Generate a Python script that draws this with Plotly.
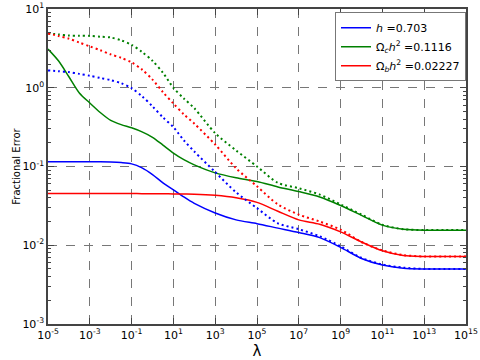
import plotly.graph_objects as go

# lambda sample points
lam = [1e-5, 3.16e-5, 1e-4, 3.16e-4, 1e-3, 3.16e-3, 1e-2, 3.16e-2, 1e-1, 3.16e-1, 1e0, 3.16e0, 1e1, 3.16e1,
       1e2, 1e3, 1e4, 1e5, 1e6, 1e7, 1e8, 1e9, 1e10, 1e11, 1e12, 1e13, 1e14, 1e15]

# solid curves
h_solid = [0.115, 0.115, 0.115, 0.115, 0.115, 0.1148, 0.114, 0.112, 0.108, 0.096, 0.079, 0.062, 0.0506, 0.041,
           0.034, 0.0257, 0.021, 0.0188, 0.0165, 0.0145, 0.0125, 0.0094, 0.0068, 0.0056, 0.0051, 0.0050, 0.0050, 0.0050]
oc_solid = [3.1, 2.2, 1.38, 0.86, 0.64, 0.485, 0.385, 0.34, 0.31, 0.275, 0.235, 0.187, 0.148, 0.122,
            0.105, 0.083, 0.072, 0.0645, 0.055, 0.048, 0.041, 0.032, 0.024, 0.018, 0.016, 0.0155, 0.0155, 0.0155]
ob_solid = [0.0455, 0.0455, 0.0455, 0.0455, 0.0455, 0.0455, 0.0455, 0.0454, 0.0453, 0.0452, 0.0451, 0.045, 0.0449, 0.0447,
            0.0445, 0.043, 0.040, 0.035, 0.027, 0.021, 0.0185, 0.0148, 0.011, 0.0085, 0.0074, 0.0072, 0.0072, 0.0072]

# dotted curves
h_dot = [1.66, 1.62, 1.58, 1.5, 1.42, 1.33, 1.25, 1.14, 0.99, 0.78, 0.58, 0.42, 0.316, 0.215,
         0.155, 0.085, 0.047, 0.0296, 0.019, 0.016, 0.013, 0.0097, 0.0069, 0.0057, 0.0052, 0.0050, 0.0050, 0.0050]
oc_dot = [4.9, 4.75, 4.6, 4.58, 4.55, 4.45, 4.35, 4.0, 3.5, 2.85, 2.2, 1.55, 1.0, 0.73,
          0.55, 0.265, 0.16, 0.1, 0.062, 0.053, 0.044, 0.033, 0.0245, 0.0182, 0.016, 0.0156, 0.0156, 0.0156]
ob_dot = [4.9, 4.55, 4.2, 3.75, 3.35, 3.0, 2.65, 2.4, 2.1, 1.7, 1.27, 0.88, 0.63, 0.46,
          0.35, 0.19, 0.095, 0.056, 0.033, 0.0245, 0.02, 0.0158, 0.011, 0.0086, 0.0075, 0.0072, 0.0072, 0.0072]

names = ["<i>h</i> =0.703",
         "Ω<sub><i>c</i></sub><i>h</i><sup>2</sup> =0.1116",
         "Ω<sub><i>b</i></sub><i>h</i><sup>2</sup> =0.02227"]
colors = ["#0000ff", "#008000", "#ff0000"]

fig = go.Figure()
for ys, c, n in zip([h_solid, oc_solid, ob_solid], colors, names):
    fig.add_trace(go.Scatter(x=lam, y=ys, mode="lines", name=n,
                             line=dict(color=c, width=1.5, shape="spline", smoothing=0.8)))
for ys, c in zip([h_dot, oc_dot, ob_dot], colors):
    fig.add_trace(go.Scatter(x=lam, y=ys, mode="lines", showlegend=False,
                             line=dict(color=c, width=2, dash="2px,3px", shape="spline", smoothing=0.8)))

xt = [10.0 ** e for e in range(-5, 16, 2)]
xtt = ["10<sup>%d</sup>" % e for e in range(-5, 16, 2)]
yt = [10.0 ** e for e in range(-3, 2)]
ytt = ["10<sup>%d</sup>" % e for e in range(-3, 2)]
yminor = [k * 10.0 ** e for e in range(-3, 1) for k in range(2, 10)]

fig.update_layout(
    width=480, height=360,
    margin=dict(l=48, r=14, t=9, b=36),
    plot_bgcolor="white", paper_bgcolor="white",
    font=dict(family="DejaVu Sans", size=11, color="black"),
    legend=dict(x=1.0, y=0.99, xanchor="right", yanchor="top", bgcolor="white",
                bordercolor="#777", borderwidth=1, font=dict(size=11), tracegroupgap=0,
                itemwidth=30),
)
fig.update_xaxes(type="log", range=[-5, 15], tickvals=xt, ticktext=xtt, ticks="inside", ticklen=6,
                 showline=True, mirror="ticks", linecolor="#444", linewidth=1.5, automargin=False,
                 showgrid=True, gridcolor="#777", griddash="dash", gridwidth=0.8,
                 title=dict(text="λ", font=dict(size=15), standoff=0), zeroline=False)
fig.update_yaxes(type="log", range=[-3, 1], tickvals=yt, ticktext=ytt, ticks="inside", ticklen=6,
                 showline=True, mirror="ticks", linecolor="#444", linewidth=1.5, automargin=False,
                 showgrid=True, gridcolor="#777", griddash="dash", gridwidth=0.8,
                 minor=dict(tickvals=yminor, ticks="inside", ticklen=3, tickcolor="#444", showgrid=False),
                 title=dict(text="Fractional Error", font=dict(size=10), standoff=0), zeroline=False)

# drop the page's default body margin so the figure sits at the window corner
fig.write_html("out.html", config={"displayModeBar": False},
               post_script="document.body.style.margin='0';")
